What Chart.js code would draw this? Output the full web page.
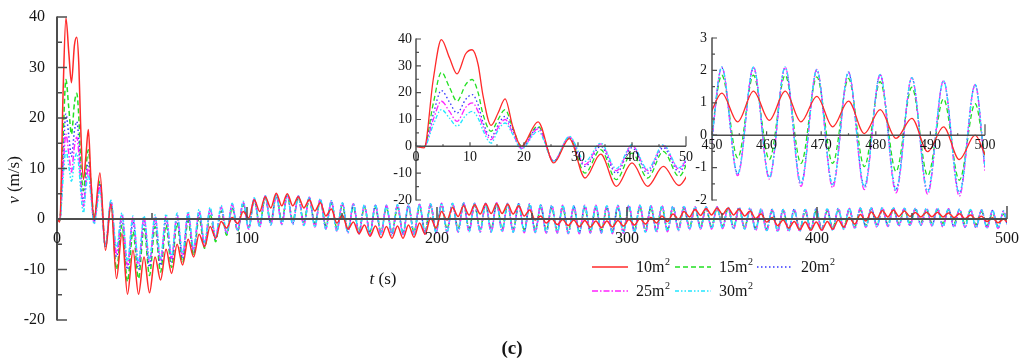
<!DOCTYPE html>
<html>
<head>
<meta charset="utf-8">
<script src="https://cdn.jsdelivr.net/npm/chart.js@4.4.1/dist/chart.umd.min.js"></script>
<style>
  body { margin: 0; background: #fff; }
  #wrap { position: relative; width: 1024px; height: 361px; overflow: hidden; }
  canvas { position: absolute; }
</style>
</head>
<body>
<div id="wrap">
  <canvas id="mainChart" width="1024" height="361" style="left:0;top:0"></canvas>
  <canvas id="zoomStart" width="320" height="195" style="left:380px;top:20px"></canvas>
  <canvas id="zoomEnd" width="330" height="197" style="left:688px;top:18px"></canvas>
</div>
<script>
// time stamps (s): early detail, then each peak / trough of the oscillation
const times = [
  0, 1.5, 3.2, 4.7, 6.2, 7.6, 9.2, 10.4, 11.5, 12.4, 13.9, 15.2, 16.5, 17.9, 19.5,
  22.6, 25.5, 28.4, 31.3, 34.2, 37.1, 40.0, 42.9, 45.8, 48.7,
  51.6, 54.5, 57.4, 60.3, 63.2, 66.1, 69.0, 71.9, 74.8, 77.7,
  80.6, 83.5, 86.4, 89.3, 92.2, 95.1, 98.0, 100.9, 103.8, 106.7,
  109.6, 112.5, 115.4, 118.3, 121.2, 124.1, 127.0, 129.9, 132.8, 135.7,
  138.6, 141.5, 144.4, 147.3, 150.2, 153.1, 156.0, 158.9, 161.8, 164.7,
  167.6, 170.5, 173.4, 176.3, 179.2, 182.1, 185.0, 187.9, 190.8, 193.7,
  196.6, 199.5, 202.4, 205.3, 208.2, 211.1, 214.0, 216.9, 219.8, 222.7,
  225.6, 228.5, 231.4, 234.3, 237.2, 240.1, 243.0, 245.9, 248.8, 251.7,
  254.6, 257.5, 260.4, 263.3, 266.2, 269.1, 272.0, 274.9, 277.8, 280.7,
  283.6, 286.5, 289.4, 292.3, 295.2, 298.1, 301.0, 303.9, 306.8, 309.7,
  312.6, 315.5, 318.4, 321.3, 324.2, 327.1, 330.0, 332.9, 335.8, 338.7,
  341.6, 344.5, 347.4, 350.3, 353.2, 356.1, 359.0, 361.9, 364.8, 367.7,
  370.6, 373.5, 376.4, 379.3, 382.2, 385.1, 388.0, 390.9, 393.8, 396.7,
  399.6, 402.5, 405.4, 408.3, 411.2, 414.1, 417.0, 419.9, 422.8, 425.7,
  428.6, 431.5, 434.4, 437.3, 440.2, 443.1, 446.0, 448.9, 451.8, 454.7,
  457.6, 460.5, 463.4, 466.3, 469.2, 472.1, 475.0, 477.9, 480.8, 483.7,
  486.6, 489.5, 492.4, 495.3, 498.2, 500
];

// v (m/s) for each area
const v10 = [
  0, -0.6, 25, 39.8, 33, 27, 34.5, 36, 30.5, 19, 7.8, 12.4, 17.7, 7.5, 0,
  9.1, -6.2, 2.9, -11.8, -2.9, -14.9, -6.2, -14.9, -7.5, -14.6,
  -7.5, -12.1, -6.0, -10.8, -5.0, -9.1, -4.0, -7.5, -3.0, -5.5,
  -1.5, -3.8, -0.5, -1.8, 0.3, -0.9, 1.5, 0.2, 3.8, 1.5,
  4.4, 2.2, 5.1, 2.6, 5.0, 2.6, 4.4, 2.2, 3.8, 1.6,
  3.2, 0.6, 2.0, -0.8, 0.8, -2.0, -0.6, -2.9, -1.2, -3.4,
  -1.4, -3.7, -1.5, -3.8, -1.4, -3.8, -1.2, -3.6, -0.8, -3.0,
  0.2, -1.8, 1.5, -0.2, 2.3, 0.5, 2.6, 0.8, 2.8, 1.0,
  3.0, 1.1, 3.0, 1.1, 2.9, 1.0, 2.6, 0.6, 1.8, -0.2,
  0.6, -0.8, 0.1, -1.1, -0.1, -1.3, -0.2, -1.5, -0.3, -1.6,
  -0.4, -1.7, -0.4, -1.6, -0.3, -1.4, -0.1, -1.2, 0.1, -1.0,
  0.3, -0.8, 0.6, -0.5, 1.0, -0.1, 1.5, 0.4, 1.9, 0.7,
  2.1, 0.8, 2.2, 0.9, 2.2, 0.8, 2.0, 0.6, 1.6, 0.1,
  1.0, -0.6, 0.3, -1.3, -0.2, -1.8, -0.5, -2.1, -0.6, -2.2,
  -0.6, -2.2, -0.5, -2.0, -0.2, -1.6, 0.3, -1.0, 0.9, -0.4,
  1.4, 0.1, 1.7, 0.4, 1.8, 0.5, 1.6, 0.5, 1.3, 0.41,
  1.36, 0.46, 1.36, 0.41, 1.2, 0.26, 1.05, 0.05, 0.79, -0.1,
  0.52, -0.51, 0.26, -0.75, 0.0, -0.6
];
const v15 = [
  0, -0.3, 16, 27.6, 22, 16.8, 23, 24.9, 20, 12, 5.6, 10, 13.7, 7, 0.3,
  7.5, -5.6, 3.2, -10.0, -1.2, -12.4, -2.5, -11.8, -1.9, -11.2,
  -1.5, -10.5, -1.2, -9.6, -0.8, -8.6, -0.3, -7.2, 0.3, -5.8,
  1.0, -4.5, 1.6, -3.2, 2.2, -2.4, 2.8, -1.6, 3.7, -1.0,
  4.3, -0.6, 4.7, -0.4, 4.7, -0.4, 4.4, -0.6, 4.0, -0.9,
  3.6, -1.3, 3.1, -1.8, 2.7, -2.2, 2.4, -2.5, 2.3, -2.6,
  2.3, -2.6, 2.2, -2.7, 2.3, -2.6, 2.3, -2.6, 2.4, -2.4,
  2.6, -2.2, 2.7, -2.0, 2.8, -1.9, 2.9, -1.9, 2.8, -2.0,
  2.8, -2.0, 2.9, -1.9, 2.8, -2.0, 2.7, -2.1, 2.6, -2.2,
  2.4, -2.3, 2.2, -2.3, 2.2, -2.4, 2.1, -2.4, 2.2, -2.3,
  2.2, -2.3, 2.1, -2.4, 2.2, -2.3, 2.2, -2.2, 2.3, -2.2,
  2.2, -2.1, 2.3, -2.0, 2.2, -1.8, 2.2, -1.6, 2.1, -1.5,
  2.1, -1.5, 2.1, -1.4, 2.0, -1.5, 2.0, -1.6, 1.8, -1.8,
  1.7, -1.9, 1.6, -2.0, 1.6, -2.1, 1.5, -2.1, 1.5, -2.0,
  1.6, -2.0, 1.6, -1.9, 1.7, -1.7, 1.8, -1.5, 1.8, -1.3,
  1.9, -1.1, 1.9, -1.0, 1.9, -0.9, 1.9, -0.8, 1.85, -0.7,
  1.85, -0.75, 1.85, -0.87, 1.8, -0.87, 1.75, -0.97, 1.65, -1.12,
  1.48, -1.25, 1.12, -1.39, 0.97, -0.7
];
const v20 = [
  0, -0.2, 12, 20.8, 16.5, 12.4, 17.5, 19.3, 15.5, 9, 3.4, 8, 11.2, 6, -0.5,
  7.0, -5.5, 3.3, -7.5, 0.0, -10.0, -0.5, -10.0, -0.5, -9.5,
  -0.3, -9.2, 0.0, -8.5, 0.3, -7.8, 0.7, -6.5, 1.2, -5.2,
  1.7, -4.0, 2.2, -2.9, 2.7, -2.3, 3.2, -1.8, 3.9, -1.3,
  4.5, -0.9, 4.8, -0.8, 4.8, -0.8, 4.5, -1.0, 4.2, -1.3,
  3.9, -1.7, 3.5, -2.2, 3.1, -2.5, 2.9, -2.8, 2.7, -2.9,
  2.7, -2.9, 2.6, -3.0, 2.7, -2.9, 2.7, -2.9, 2.8, -2.8,
  2.9, -2.6, 3.0, -2.4, 3.0, -2.4, 3.1, -2.3, 3.0, -2.4,
  3.0, -2.4, 3.1, -2.3, 3.0, -2.4, 3.0, -2.5, 2.9, -2.5,
  2.7, -2.6, 2.6, -2.6, 2.6, -2.7, 2.5, -2.7, 2.6, -2.6,
  2.6, -2.6, 2.5, -2.7, 2.6, -2.6, 2.6, -2.5, 2.6, -2.5,
  2.5, -2.4, 2.6, -2.3, 2.5, -2.1, 2.5, -1.9, 2.4, -1.8,
  2.4, -1.8, 2.4, -1.7, 2.3, -1.8, 2.3, -1.9, 2.1, -2.1,
  2.0, -2.2, 1.9, -2.3, 1.9, -2.3, 1.9, -2.3, 1.9, -2.2,
  2.0, -2.2, 2.0, -2.1, 2.1, -1.9, 2.1, -1.7, 2.1, -1.5,
  2.2, -1.4, 2.2, -1.3, 2.2, -1.2, 2.1, -1.2, 2.08, -1.2,
  2.08, -1.3, 2.08, -1.48, 2.0, -1.53, 1.93, -1.58, 1.86, -1.66,
  1.76, -1.72, 1.66, -1.77, 1.55, -1.0
];
const v25 = [
  0, -0.2, 10, 16.8, 13, 9.3, 14.5, 16.2, 13, 7.5, 2.5, 7, 10, 5, -0.8,
  6.5, -5.5, 3.5, -6.8, 0.9, -9.1, 0.3, -9.0, 0.3, -8.5,
  0.5, -8.3, 0.6, -7.8, 0.8, -7.2, 1.1, -6.1, 1.5, -4.9,
  2.0, -3.8, 2.4, -2.8, 2.9, -2.3, 3.3, -2.0, 4.0, -1.6,
  4.6, -1.2, 4.8, -1.1, 4.8, -1.1, 4.6, -1.3, 4.3, -1.6,
  4.0, -2.0, 3.6, -2.4, 3.2, -2.8, 3.0, -3.0, 2.8, -3.1,
  2.8, -3.1, 2.7, -3.2, 2.8, -3.1, 2.8, -3.1, 2.9, -3.0,
  3.0, -2.8, 3.1, -2.6, 3.1, -2.6, 3.2, -2.5, 3.1, -2.6,
  3.1, -2.6, 3.2, -2.5, 3.1, -2.6, 3.1, -2.7, 3.0, -2.7,
  2.8, -2.8, 2.7, -2.8, 2.7, -2.9, 2.6, -2.9, 2.7, -2.8,
  2.7, -2.8, 2.6, -2.9, 2.7, -2.8, 2.7, -2.7, 2.7, -2.7,
  2.6, -2.6, 2.6, -2.5, 2.5, -2.3, 2.5, -2.1, 2.4, -2.0,
  2.4, -2.0, 2.4, -1.9, 2.3, -2.0, 2.3, -2.1, 2.2, -2.3,
  2.0, -2.4, 1.9, -2.5, 1.9, -2.5, 1.9, -2.5, 1.9, -2.4,
  2.0, -2.4, 2.0, -2.3, 2.1, -2.1, 2.1, -1.9, 2.2, -1.7,
  2.2, -1.6, 2.2, -1.5, 2.2, -1.4, 2.1, -1.3, 2.1, -1.25,
  2.1, -1.35, 2.1, -1.58, 2.03, -1.62, 1.95, -1.68, 1.88, -1.78,
  1.78, -1.82, 1.68, -1.88, 1.57, -1.1
];
const v30 = [
  0, -0.2, 8, 13.7, 10.5, 7.5, 11.5, 13, 10.5, 6, 1.2, 6, 8.7, 4.5, -1,
  5.6, -5.5, 3.7, -5.6, 1.2, -8.3, 0.6, -8.5, 0.6, -8.0,
  0.8, -7.8, 1.0, -7.3, 1.2, -6.8, 1.5, -5.8, 1.9, -4.6,
  2.3, -3.6, 2.7, -2.6, 3.1, -2.2, 3.5, -1.9, 4.2, -1.5,
  4.6, -1.2, 4.8, -1.1, 4.8, -1.1, 4.6, -1.3, 4.3, -1.6,
  4.0, -2.0, 3.6, -2.4, 3.2, -2.7, 3.0, -2.9, 2.8, -3.0,
  2.8, -3.0, 2.7, -3.1, 2.8, -3.0, 2.8, -3.0, 2.9, -2.9,
  3.0, -2.7, 3.1, -2.6, 3.1, -2.6, 3.2, -2.5, 3.1, -2.6,
  3.1, -2.6, 3.2, -2.5, 3.1, -2.6, 3.1, -2.6, 3.0, -2.6,
  2.8, -2.7, 2.7, -2.7, 2.7, -2.8, 2.6, -2.8, 2.7, -2.7,
  2.7, -2.7, 2.6, -2.8, 2.7, -2.7, 2.7, -2.6, 2.7, -2.6,
  2.6, -2.5, 2.6, -2.4, 2.5, -2.2, 2.5, -2.0, 2.4, -1.9,
  2.4, -1.9, 2.4, -1.8, 2.3, -1.9, 2.3, -2.0, 2.2, -2.2,
  2.0, -2.3, 1.9, -2.4, 1.9, -2.4, 1.9, -2.4, 1.9, -2.3,
  2.0, -2.3, 2.0, -2.2, 2.1, -2.0, 2.1, -1.8, 2.2, -1.6,
  2.2, -1.5, 2.2, -1.4, 2.2, -1.3, 2.15, -1.25, 2.11, -1.2,
  2.11, -1.3, 2.11, -1.5, 2.03, -1.55, 1.95, -1.6, 1.88, -1.7,
  1.78, -1.75, 1.68, -1.8, 1.57, -1.0
];

const seriesValues = [v10, v15, v20, v25, v30];
const seriesLabels = ['10m²', '15m²', '20m²', '25m²', '30m²'];
const seriesColors = ['#ff2a2a', '#22e022', '#3535ff', '#ff22ff', '#22e6ff'];
const seriesDashes = [[], [5, 3], [1.5, 2.5], [6, 2, 1.5, 2], [4, 2, 1.5, 2, 1.5, 2]];
const seriesOrder = [0, 4, 3, 2, 1];

const mainXTicks = [0, 100, 200, 300, 400, 500];
const mainYTicks = [-20, -10, 0, 10, 20, 30, 40];
const startXTicks = [0, 10, 20, 30, 40, 50];
const startYTicks = [-20, -10, 0, 10, 20, 30, 40];
const endXTicks = [450, 460, 470, 480, 490, 500];
const endYTicks = [-2, -1, 0, 1, 2, 3];

const AXIS_COLOR = '#4d4d4d';
const TEXT_COLOR = '#151515';
const SERIF = '"Liberation Serif", "Times New Roman", serif';

function buildDatasets(lineWidth) {
  return seriesValues.map((vals, i) => ({
    label: seriesLabels[i],
    data: times.map((t, j) => ({ x: t, y: vals[j] })),
    borderColor: seriesColors[i],
    borderDash: seriesDashes[i],
    borderWidth: lineWidth,
    pointRadius: 0,
    fill: false,
    cubicInterpolationMode: 'monotone',
    order: seriesOrder[i],
    clip: { left: 0, right: 0, top: false, bottom: false }
  }));
}

// axis lines, inward ticks and tick labels, placed through the chart scales
function axesPlugin(o) {
  return {
    id: 'axesDraw',
    afterDatasetsDraw(chart) {
      const { ctx, scales: { x, y } } = chart;
      const y0 = y.getPixelForValue(0);
      const left = x.left;
      ctx.save();
      ctx.strokeStyle = AXIS_COLOR;
      ctx.lineWidth = o.axisWidth;
      ctx.beginPath();
      ctx.moveTo(left, y.top - 0.5); ctx.lineTo(left, y.bottom + 0.5);
      ctx.moveTo(left, y0); ctx.lineTo(x.right, y0);
      ctx.stroke();

      ctx.lineWidth = o.tickWidth;
      ctx.beginPath();
      o.yTicks.forEach((v, i) => {
        const p = y.getPixelForValue(v);
        ctx.moveTo(left, p); ctx.lineTo(left + o.yMajor, p);
        if (i > 0) {
          const m = y.getPixelForValue((v + o.yTicks[i - 1]) / 2);
          ctx.moveTo(left, m); ctx.lineTo(left + o.yMinor, m);
        }
      });
      o.xTicks.forEach((v, i) => {
        const p = x.getPixelForValue(v);
        const len = i === o.xTicks.length - 1 ? o.xEnd : o.xMajor;
        ctx.moveTo(p, y0); ctx.lineTo(p, y0 - len);
        if (i > 0) {
          const m = x.getPixelForValue((v + o.xTicks[i - 1]) / 2);
          ctx.moveTo(m, y0); ctx.lineTo(m, y0 - o.xMinor);
        }
      });
      ctx.stroke();

      ctx.fillStyle = TEXT_COLOR;
      ctx.font = o.font;
      ctx.textAlign = 'right';
      ctx.textBaseline = 'middle';
      o.yTicks.forEach(v => ctx.fillText(String(v), left - o.yPad, y.getPixelForValue(v)));
      ctx.textAlign = 'center';
      o.xTicks.forEach(v => ctx.fillText(String(v), x.getPixelForValue(v), y0 + o.xPad));
      ctx.restore();
    }
  };
}

// draw text made of styled runs, centred on (cx, cy)
function drawRuns(ctx, runs, cx, cy, angle) {
  ctx.save();
  ctx.translate(cx, cy);
  ctx.rotate(angle);
  ctx.textBaseline = 'middle';
  ctx.textAlign = 'left';
  let total = 0;
  runs.forEach(r => { ctx.font = r.font; total += ctx.measureText(r.text).width; });
  let pos = -total / 2;
  runs.forEach(r => {
    ctx.font = r.font;
    ctx.fillText(r.text, pos, 0);
    pos += ctx.measureText(r.text).width;
  });
  ctx.restore();
}

const LEGEND_X = [592, 675, 757];
const LEGEND_Y = [267, 291];

const mainDecor = {
  id: 'mainDecor',
  afterDraw(chart) {
    const ctx = chart.ctx;
    ctx.save();
    ctx.fillStyle = TEXT_COLOR;
    drawRuns(ctx, [
      { text: 'v', font: 'italic 17px ' + SERIF },
      { text: ' (m/s)', font: '17px ' + SERIF }
    ], 15, 180, -Math.PI / 2);
    drawRuns(ctx, [
      { text: 't', font: 'italic 17px ' + SERIF },
      { text: ' (s)', font: '17px ' + SERIF }
    ], 383, 280, 0);
    drawRuns(ctx, [{ text: '(c)', font: 'bold 19px ' + SERIF }], 512, 349, 0);

    chart.data.datasets.forEach((ds, i) => {
      const lx = LEGEND_X[i % 3];
      const ly = LEGEND_Y[Math.floor(i / 3)];
      ctx.strokeStyle = ds.borderColor;
      ctx.lineWidth = 1.4;
      ctx.setLineDash(ds.borderDash);
      ctx.beginPath();
      ctx.moveTo(lx, ly); ctx.lineTo(lx + 36, ly);
      ctx.stroke();
      ctx.setLineDash([]);
      const base = ds.label.replace('²', '');
      ctx.textAlign = 'left';
      ctx.textBaseline = 'middle';
      ctx.font = '16px ' + SERIF;
      ctx.fillText(base, lx + 44, ly + 1);
      const w = ctx.measureText(base).width;
      ctx.font = '10px ' + SERIF;
      ctx.fillText('2', lx + 44 + w + 0.5, ly - 5);
    });
    ctx.restore();
  }
};

function makeChart(id, xMin, xMax, yMin, yMax, padding, lineWidth, axisOpts, extra) {
  return new Chart(document.getElementById(id), {
    type: 'line',
    data: { datasets: buildDatasets(lineWidth) },
    options: {
      responsive: false,
      animation: false,
      events: [],
      layout: { padding: padding },
      scales: {
        x: { type: 'linear', min: xMin, max: xMax, display: false },
        y: { type: 'linear', min: yMin, max: yMax, display: false }
      },
      plugins: { legend: { display: false }, tooltip: { enabled: false } }
    },
    plugins: [axesPlugin(axisOpts)].concat(extra || [])
  });
}

makeChart('mainChart', 0, 500, -20, 40,
  { left: 57, right: 17, top: 17, bottom: 41 }, 1.5,
  { xTicks: mainXTicks, yTicks: mainYTicks, axisWidth: 2, tickWidth: 1.5,
    yMajor: 10, yMinor: 5, xMajor: 12, xMinor: 6, xEnd: 13, yPad: 12, xPad: 20,
    font: '16px ' + SERIF },
  [mainDecor]);

makeChart('zoomStart', 0, 50, -20, 40,
  { left: 36, right: 14, top: 19, bottom: 15 }, 1.3,
  { xTicks: startXTicks, yTicks: startYTicks, axisWidth: 1.5, tickWidth: 1.2,
    yMajor: 5, yMinor: 3, xMajor: 4, xMinor: 2, xEnd: 10, yPad: 4, xPad: 11,
    font: '14px ' + SERIF });

makeChart('zoomEnd', 450, 500, -2, 3,
  { left: 24, right: 33, top: 20, bottom: 15 }, 1.3,
  { xTicks: endXTicks, yTicks: endYTicks, axisWidth: 1.5, tickWidth: 1.2,
    yMajor: 5, yMinor: 3, xMajor: 4, xMinor: 2, xEnd: 11, yPad: 5, xPad: 10,
    font: '14px ' + SERIF });
</script>
</body>
</html>
